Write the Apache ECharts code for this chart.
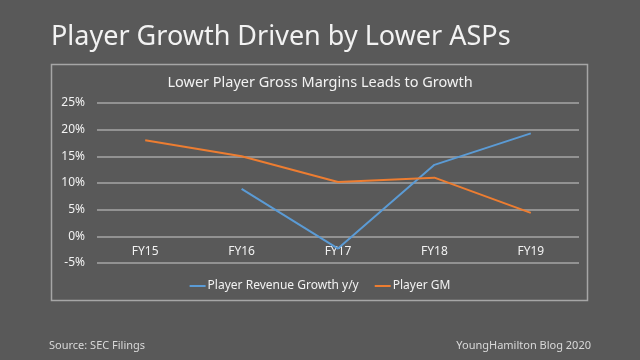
<!DOCTYPE html>
<html><head><meta charset="utf-8">
<script src="https://cdn.jsdelivr.net/npm/echarts@6/dist/echarts.min.js"></script>
<style>html,body{margin:0;padding:0;background:#595959;}#c{width:640px;height:360px;}</style>
</head><body><div id="c"></div>
<script>
const categories = ['FY15','FY16','FY17','FY18','FY19'];
const revenueGrowth = [null, 8.9, -2.3, 13.4, 19.3];
const playerGM = [18.0, 15.0, 10.2, 11.0, 4.4];
const yTicks = [-5, 0, 5, 10, 15, 20, 25];

const FONT = '"Noto Sans", "DejaVu Sans", sans-serif';
const chart = echarts.init(document.getElementById('c'), null, {renderer:'canvas'});
chart.setOption({
  backgroundColor: '#595959',
  animation: false,
  title: [
    {text: 'Player Growth Driven by Lower ASPs', left: 46, top: 19,
     textStyle: {color: '#f2f2f2', fontSize: 27, fontWeight: 'normal', fontFamily: FONT}},
    {text: 'Lower Player Gross Margins Leads to Growth', left: 'center', top: 70,
     textStyle: {color: '#f2f2f2', fontSize: 14.5, fontWeight: 'normal', fontFamily: FONT}},
    {text: 'Source: SEC Filings', left: 44, top: 335,
     textStyle: {color: '#d9d9d9', fontSize: 11, fontWeight: 'normal', fontFamily: FONT}},
    {text: 'YoungHamilton Blog 2020', right: 44, top: 335,
     textStyle: {color: '#d9d9d9', fontSize: 11, fontWeight: 'normal', fontFamily: FONT}}
  ],
  graphic: [{type: 'rect', shape: {x: 51.5, y: 64.5, width: 536, height: 236},
    style: {fill: 'none', stroke: '#a6a6a6', lineWidth: 1.5}, silent: true}],
  legend: {
    bottom: 63, left: 'center', itemWidth: 16, itemHeight: 2, itemGap: 16,
    icon: 'rect',
    textStyle: {color: '#f2f2f2', fontSize: 12, fontFamily: FONT, padding: [0,0,0,-3]},
    data: ['Player Revenue Growth y/y', 'Player GM']
  },
  grid: {left: 97, right: 61, top: 103, bottom: 97, containLabel: false},
  xAxis: {
    type: 'category', data: categories, boundaryGap: true,
    offset: -26.67,
    axisLine: {show: false, onZero: false},
    axisTick: {show: false},
    axisLabel: {color: '#f2f2f2', fontSize: 12, fontFamily: FONT, margin: 9}
  },
  yAxis: {
    type: 'value', min: -5, max: 25, interval: 5,
    axisLine: {show: false}, axisTick: {show: false},
    axisLabel: {color: '#f2f2f2', fontSize: 12, fontFamily: FONT, margin: 12,
      formatter: v => yTicks.includes(v) ? v + '%' : ''},
    splitLine: {lineStyle: {color: '#a6a6a6', width: 1.5}}
  },
  series: [
    {name: 'Player Revenue Growth y/y', type: 'line', data: revenueGrowth,
     symbol: 'none', connectNulls: false,
     itemStyle: {color: '#5b9bd5'}, lineStyle: {color: '#5b9bd5', width: 2}},
    {name: 'Player GM', type: 'line', data: playerGM, symbol: 'none',
     itemStyle: {color: '#ed7d31'}, lineStyle: {color: '#ed7d31', width: 2}}
  ]
});
</script></body></html>
